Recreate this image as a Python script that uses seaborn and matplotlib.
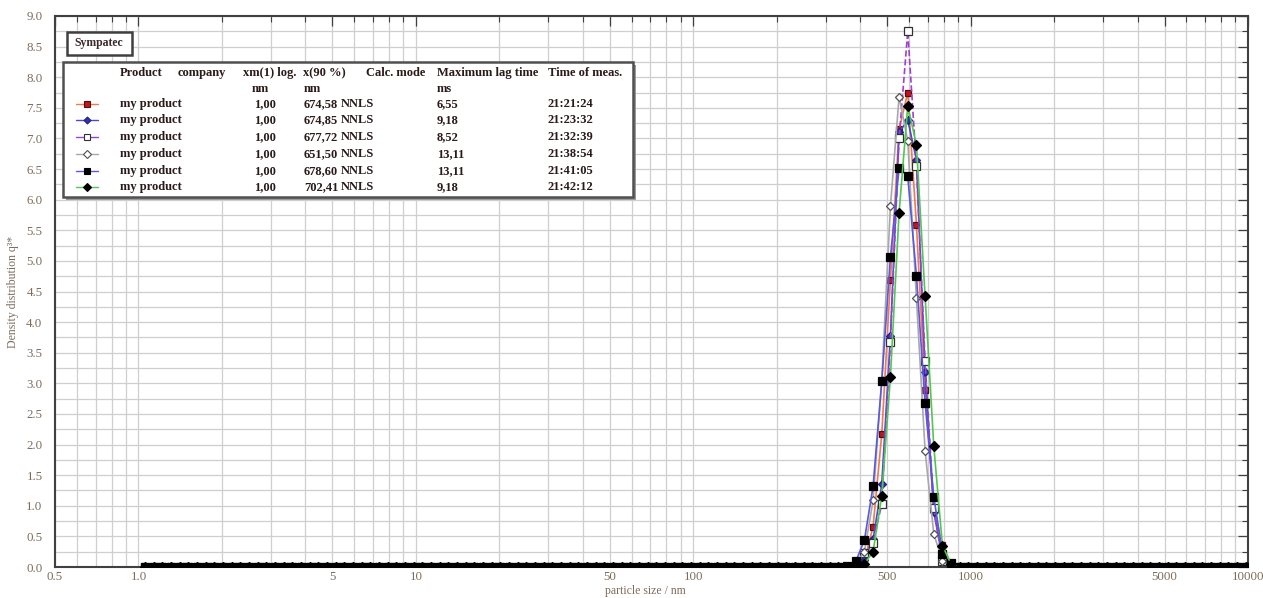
import numpy as np
import pandas as pd
import matplotlib
matplotlib.use("Agg")
import matplotlib.pyplot as plt
from matplotlib.lines import Line2D
from matplotlib.patches import Rectangle
from matplotlib.ticker import FixedLocator, NullFormatter, MultipleLocator
import seaborn as sns

# Size classes of the measurement (geometric grid, 32 classes per decade)
size_nm = np.geomspace(1.056, 9817.0, 128)
PEAK_START = 81  # first class index of the listed peak values

# Density distribution q3* in the peak region (classes 81..94), zero elsewhere
q_run1 = [0.00, 0.02, 0.10, 0.66, 2.17, 4.69, 7.15, 7.75, 5.59, 2.89, 0.95, 0.36, 0.05, 0.00]
q_run2 = [0.00, 0.02, 0.12, 0.45, 1.35, 3.77, 7.10, 7.30, 6.65, 3.19, 0.90, 0.15, 0.03, 0.00]
q_run3 = [0.00, 0.01, 0.23, 0.40, 1.03, 3.67, 7.00, 8.75, 6.55, 3.36, 0.96, 0.10, 0.02, 0.00]
q_run4 = [0.00, 0.05, 0.25, 1.09, 3.05, 5.89, 7.68, 6.96, 4.39, 1.90, 0.54, 0.10, 0.00, 0.00]
q_run5 = [0.02, 0.09, 0.44, 1.32, 3.03, 5.06, 6.52, 6.38, 4.76, 2.68, 1.15, 0.22, 0.07, 0.00]
q_run6 = [0.00, 0.00, 0.05, 0.25, 1.16, 3.11, 5.79, 7.53, 6.90, 4.42, 1.98, 0.35, 0.05, 0.00]

products = ["my product"] * 6
xm_log = ["1,00"] * 6
x90 = ["674,58", "674,85", "677,72", "651,50", "678,60", "702,41"]
calc_mode = ["NNLS"] * 6
max_lag = ["6,55", "9,18", "8,52", "13,11", "13,11", "9,18"]
meas_time = ["21:21:24", "21:23:32", "21:32:39", "21:38:54", "21:41:05", "21:42:12"]

x_tick_values = [0.5, 1.0, 5, 10, 50, 100, 500, 1000, 5000, 10000]
x_tick_labels = ["0.5", "1.0", "5", "10", "50", "100", "500", "1000", "5000", "10000"]

styles = [
    dict(color="#f07a4a", marker="s", mfc="#c01818", mec="#501010", ls="-", ms=5),
    dict(color="#4a4ad8", marker="D", mfc="#3030b0", mec="#202080", ls="-", ms=4),
    dict(color="#a040d0", marker="s", mfc="white", mec="#303030", ls="--", ms=5.5),
    dict(color="#a8a8a8", marker="D", mfc="white", mec="#505050", ls="-", ms=4.5),
    dict(color="#5858e0", marker="s", mfc="black", mec="black", ls="-", ms=5.5),
    dict(color="#50c850", marker="D", mfc="black", mec="black", ls="-", ms=5),
]

W, H = 1263, 598
sns.set_theme(style="white")
plt.rcParams["font.family"] = ["Liberation Serif", "DejaVu Serif"]

fig = plt.figure(figsize=(W / 100, H / 100), dpi=100)
ax = fig.add_axes([55 / W, 31 / H, (1248 - 55) / W, (567 - 16) / H])

series = [q_run1, q_run2, q_run3, q_run4, q_run5, q_run6]
for i, (vals, st) in enumerate(zip(series, styles)):
    q = np.zeros_like(size_nm)
    q[PEAK_START:PEAK_START + len(vals)] = vals
    df = pd.DataFrame({"size": size_nm, "q3": q})
    sns.lineplot(data=df, x="size", y="q3", ax=ax, color=st["color"],
                 linestyle=st["ls"], linewidth=1.2, marker=st["marker"],
                 markersize=st["ms"], markerfacecolor=st["mfc"],
                 markeredgecolor=st["mec"], markeredgewidth=0.9,
                 legend=False, zorder=3 + i)

ax.set_xscale("log")
ax.set_xlim(0.5, 10000)
ax.set_ylim(0, 9.0)

# axis ticks and grid
ax.xaxis.set_major_locator(FixedLocator(x_tick_values))
ax.set_xticklabels(x_tick_labels)
minor_x = [m * 10.0 ** e for e in range(-1, 4) for m in range(2, 10)]
ax.xaxis.set_minor_locator(FixedLocator([v for v in minor_x if 0.5 <= v <= 10000]))
ax.xaxis.set_minor_formatter(NullFormatter())
ax.yaxis.set_major_locator(MultipleLocator(0.5))
ax.yaxis.set_minor_locator(MultipleLocator(0.25))
ax.set_yticklabels([f"{v:.1f}" for v in ax.get_yticks()])
ax.grid(True, which="both", color="#cfcfcf", linewidth=0.9)
ax.set_axisbelow(True)

label_color = "#7d6c5c"
ax.tick_params(axis="both", which="both", direction="in", top=True, right=True,
               colors="#404040", labelcolor=label_color, labelsize=9.3)
ax.tick_params(axis="both", which="major", length=7, width=0.9, pad=3)
ax.tick_params(axis="y", which="major", pad=9)
ax.tick_params(axis="both", which="minor", length=4, width=0.8)
for sp in ax.spines.values():
    sp.set_color("#404040")
    sp.set_linewidth(1.5)
    sp.set_visible(True)

ax.set_xlabel("")
ax.set_ylabel("Density distribution q³*", fontsize=8.5, color=label_color, labelpad=5)
fig.text(645 / W, 1 - 591 / H, "particle size / nm", fontsize=8.5, color=label_color,
         ha="center", va="center")


def fx(x):
    return x / W


def fy(y):
    return 1 - y / H


# "Sympatec" tag
fig.patches.append(Rectangle((fx(67), fy(55)), 65 / W, 23 / H, transform=fig.transFigure,
                             facecolor="white", edgecolor="#404040", linewidth=1.8, zorder=10))
fig.text(fx(99), fy(43), "Sympatec", fontsize=8.5, color="#3a2a2a", ha="center", va="center",
         fontweight="bold", zorder=11)

# result table legend
fig.patches.append(Rectangle((fx(66), fy(200)), 570 / W, 135 / H, transform=fig.transFigure,
                             facecolor="#9a9a9a", edgecolor="none", zorder=9))
fig.patches.append(Rectangle((fx(63), fy(197)), 570 / W, 135 / H, transform=fig.transFigure,
                             facecolor="white", edgecolor="#505050", linewidth=1.8, zorder=10))

txt = dict(fontsize=9, color="#2a1a1a", fontweight="bold", va="center", ha="left", zorder=11)
headers = [(120, "Product"), (178, "company"), (243, "xm(1) log."), (303, "x(90 %)"),
           (366, "Calc. mode"), (437, "Maximum lag time"), (548, "Time of meas.")]
for x, t in headers:
    fig.text(fx(x), fy(73), t, **txt)
for x, t in [(252, "nm"), (304, "nm"), (437, "ms")]:
    fig.text(fx(x), fy(89), t, **txt)

row_y = [104, 120, 137, 154, 171, 187]
for i, y in enumerate(row_y):
    st = styles[i]
    fig.lines.append(Line2D([fx(76), fx(98)], [fy(y), fy(y)], transform=fig.transFigure,
                            color=st["color"], linewidth=1.0, zorder=11))
    fig.lines.append(Line2D([fx(87)], [fy(y)], transform=fig.transFigure, marker=st["marker"],
                            markersize=st["ms"] - 0.5, markerfacecolor=st["mfc"],
                            markeredgecolor=st["mec"], markeredgewidth=0.8, linestyle="none",
                            zorder=12))
    fig.text(fx(120), fy(y), products[i], **txt)
    fig.text(fx(254), fy(y), xm_log[i], **txt)
    fig.text(fx(304), fy(y), x90[i], **txt)
    fig.text(fx(341), fy(y), calc_mode[i], **txt)
    fig.text(fx(437), fy(y), max_lag[i], **txt)
    fig.text(fx(548), fy(y), meas_time[i], **txt)

fig.savefig("out.png", dpi=100)
